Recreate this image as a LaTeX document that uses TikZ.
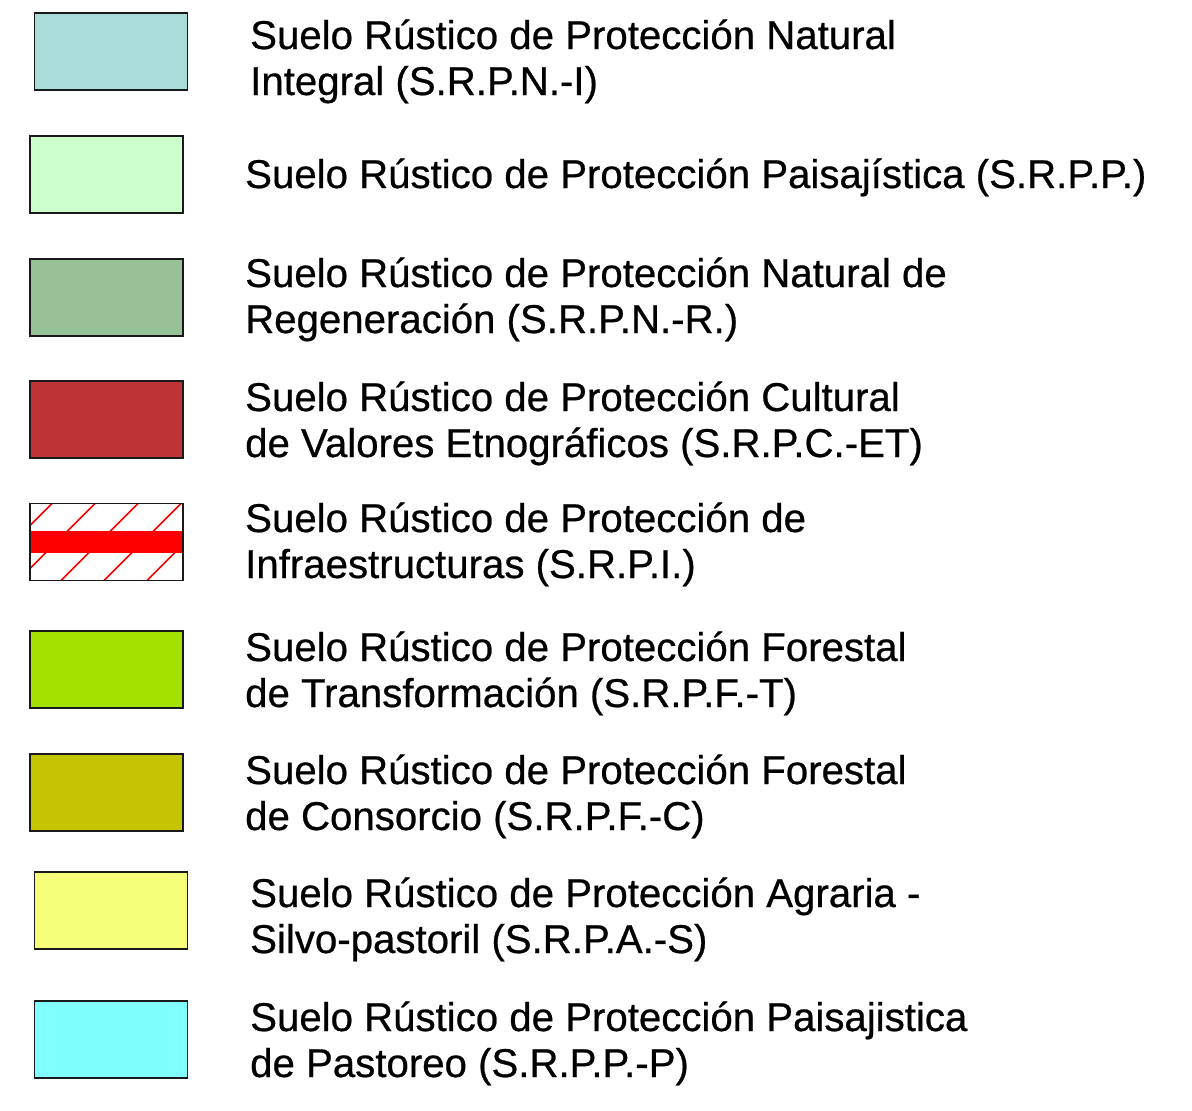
\documentclass[tikz,border=0pt]{standalone}
\usepackage{fontspec}
\setmainfont[FakeBold=0.6]{Liberation Sans}
\definecolor{c1}{HTML}{A9DBD9}
\definecolor{c2}{HTML}{CCFFCC}
\definecolor{c3}{HTML}{97C196}
\definecolor{c4}{HTML}{BE3336}
\definecolor{c6}{HTML}{A3E000}
\definecolor{c7}{HTML}{C4C400}
\definecolor{c8}{HTML}{F5FF7A}
\definecolor{c9}{HTML}{80FFFF}
\begin{document}
\begin{tikzpicture}[x=1pt,y=-1pt,
  legbox/.style={draw=black!90,line width=1.8pt,minimum width=153pt,minimum height=77pt,inner sep=0pt},
  legtext/.style={anchor=base west,align=left,inner sep=0pt,font=\fontsize{40.2}{46}\selectfont}]
\useasboundingbox (0,0) rectangle (1192,1111);
\node[legbox,fill=c1] (b1) at (111,51.5) {};
\node[legbox,fill=c2] (b2) at (106.5,174.5) {};
\node[legbox,fill=c3] (b3) at (106.5,297.5) {};
\node[legbox,fill=c4] (b4) at (106.5,419.5) {};
\node[legbox,fill=white,path picture={
   \foreach \t in {9,52,95,138,181,224}{
     \draw[red,line width=1.7pt] ([xshift=\t pt-30pt]path picture bounding box.north west) -- ++(-90pt,-90pt);}
   \fill[red] ([yshift=-27pt]path picture bounding box.north west) rectangle ([yshift=-49pt]path picture bounding box.north east);
  }] (b5) at (106.5,542) {};
\node[legbox,fill=c6] (b6) at (106.5,669.5) {};
\node[legbox,fill=c7] (b7) at (106.5,792.5) {};
\node[legbox,fill=c8] (b8) at (111,910.5) {};
\node[legbox,fill=c9] (b9) at (111,1039.5) {};

\node[legtext] (t1) at (250,95) {Suelo Rústico de Protección Natural\\Integral (S.R.P.N.-I)};
\node[legtext] (t2) at (245,188) {Suelo Rústico de Protección Paisajística (S.R.P.P.)};
\node[legtext] (t3) at (245,333) {Suelo Rústico de Protección Natural de\\Regeneración (S.R.P.N.-R.)};
\node[legtext] (t4) at (245,457) {Suelo Rústico de Protección Cultural\\de Valores Etnográficos (S.R.P.C.-ET)};
\node[legtext] (t5) at (245,578) {Suelo Rústico de Protección de\\Infraestructuras (S.R.P.I.)};
\node[legtext] (t6) at (245,707) {Suelo Rústico de Protección Forestal\\de Transformación (S.R.P.F.-T)};
\node[legtext] (t7) at (245,830) {Suelo Rústico de Protección Forestal\\de Consorcio (S.R.P.F.-C)};
\node[legtext] (t8) at (250,953) {Suelo Rústico de Protección Agraria -\\Silvo-pastoril (S.R.P.A.-S)};
\node[legtext] (t9) at (250,1077) {Suelo Rústico de Protección Paisajistica\\de Pastoreo (S.R.P.P.-P)};
\end{tikzpicture}
\end{document}
